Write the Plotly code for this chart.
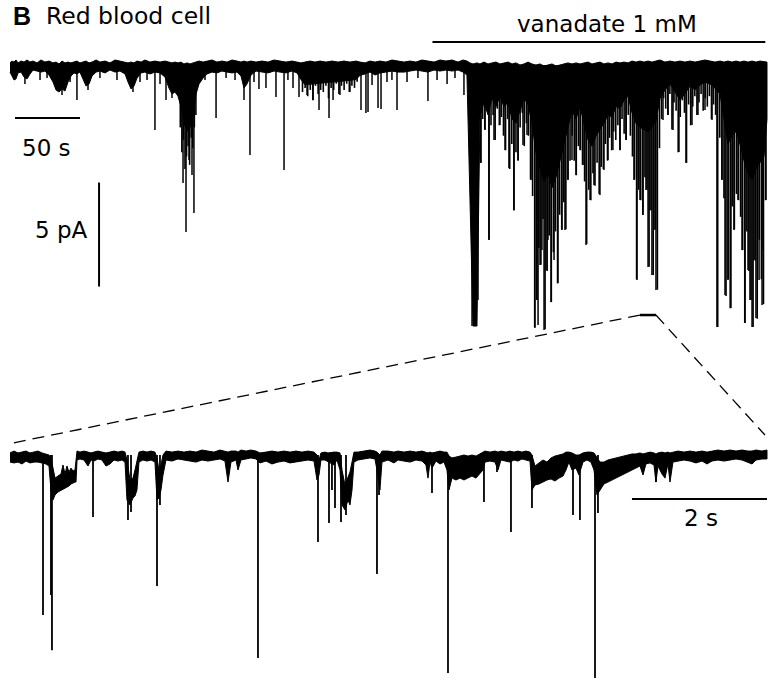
import plotly.graph_objects as go

# ---------------- DATA ----------------
# Overview record (top): time in s, current in pA (0 = baseline, inward = negative)
top_env_t = [0, 1.5, 3.1, 4.6, 6.2, 8.5, 10.8, 13.1, 15.4, 17.7,
             20.8, 23.8, 26.9, 30.0, 33.1, 35.4, 37.7, 40.0, 42.3, 44.6,
             46.9, 49.2, 51.5, 53.8, 56.2, 58.5, 60.8, 63.1, 66.2, 69.2,
             73.1, 76.9, 80.8, 84.6, 88.5, 90.8, 93.1, 95.4, 97.7, 100.8,
             103.8, 107.7, 111.5, 115.4, 119.2, 122.3, 124.6, 126.9, 129.2, 131.5,
             133.8, 136.2, 138.5, 140.8, 143.1, 145.4, 148.5, 151.5, 155.4, 159.2,
             163.1, 166.9, 170.8, 174.6, 177.7, 180.0, 182.3, 185.4, 189.2, 193.8,
             198.5, 203.1, 207.7, 212.3, 216.9, 220.8, 223.8, 226.9, 230.8, 234.6,
             238.5, 243.1, 247.7, 252.3, 256.9, 261.5, 266.2, 269.2, 273.1, 276.9,
             280.8, 284.6, 289.2, 293.8, 298.5, 303.1, 307.7, 312.3, 316.9, 321.5,
             326.2, 330.8, 335.4, 340.0, 344.6, 348.5, 351.5, 353.8, 356.2, 359.2,
             361.5, 364.6, 367.7, 370.8, 373.8, 376.9, 380.0, 383.1, 386.2, 389.2,
             392.3, 395.4, 398.5, 401.5, 404.6, 407.7, 410.8, 413.8, 416.9, 420.0,
             423.1, 426.2, 429.2, 432.3, 435.4, 438.5, 441.5, 444.6, 447.7, 450.8,
             453.8, 456.9, 460.0, 463.1, 466.2, 469.2, 472.3, 475.4, 478.5, 481.5,
             484.6, 487.7, 490.8, 493.8, 496.9, 500.0, 503.8, 507.7, 511.5, 515.4,
             519.2, 523.1, 526.9, 530.8, 534.6, 538.5, 542.3, 546.2, 549.2, 552.3,
             555.4, 558.5, 561.5, 564.6, 567.7, 570.8, 573.8, 576.9, 580.0, 582.3]
top_env_hi = [0.10, 0.19, 0.14, 0.24, 0.10, 0.19, 0.14, 0.24, 0.14, 0.19,
              0.10, 0.24, 0.14, 0.19, 0.10, 0.14, 0.05, 0.19, 0.10, 0.14,
              0.10, 0.14, 0.19, 0.10, 0.14, 0.19, 0.10, 0.14, 0.24, 0.14,
              0.19, 0.10, 0.24, 0.19, 0.14, 0.10, 0.14, 0.10, 0.19, 0.14,
              0.24, 0.14, 0.19, 0.14, 0.19, 0.14, 0.10, 0.14, 0.10, 0.14,
              0.05, 0.10, 0.05, 0.10, 0.14, 0.19, 0.14, 0.19, 0.24, 0.14,
              0.19, 0.14, 0.24, 0.19, 0.14, 0.19, 0.14, 0.19, 0.14, 0.19,
              0.14, 0.24, 0.19, 0.14, 0.19, 0.14, 0.10, 0.14, 0.19, 0.14,
              0.19, 0.14, 0.19, 0.14, 0.19, 0.14, 0.19, 0.14, 0.10, 0.19,
              0.14, 0.19, 0.14, 0.24, 0.19, 0.14, 0.19, 0.14, 0.24, 0.19,
              0.14, 0.24, 0.19, 0.24, 0.14, 0.24, 0.19, 0.10, 0.05, 0.10,
              0.05, 0.14, 0.05, 0.10, 0.14, 0.05, 0.10, 0.14, 0.05, 0.10,
              0.0, 0.05, 0.14, 0.05, 0.0, 0.05, -0.05, 0.0, 0.05, -0.05,
              0.0, 0.05, 0.10, 0.05, 0.10, 0.05, 0.10, 0.14, 0.05, 0.10,
              0.14, 0.05, 0.10, 0.05, 0.14, 0.10, 0.14, 0.10, 0.19, 0.14,
              0.19, 0.14, 0.19, 0.14, 0.19, 0.24, 0.14, 0.19, 0.14, 0.19,
              0.14, 0.19, 0.14, 0.19, 0.24, 0.19, 0.14, 0.19, 0.14, 0.19,
              0.14, 0.19, 0.14, 0.19, 0.14, 0.19, 0.14, 0.19, 0.14, 0.14]
top_env_lo = [-0.34, -0.53, -0.72, -0.67, -0.38, -0.34, -0.58, -0.67, -0.43, -0.24,
              -0.29, -0.34, -0.29, -0.48, -0.82, -1.20, -1.30, -1.15, -1.25, -0.82,
              -0.53, -0.38, -0.43, -0.34, -0.72, -1.01, -0.91, -0.53, -0.34, -0.29,
              -0.38, -0.24, -0.34, -0.29, -0.43, -0.82, -1.15, -1.01, -0.63, -0.38,
              -0.34, -0.43, -0.34, -0.38, -0.58, -1.11, -1.39, -1.30, -1.49, -2.00,
              -2.80, -3.20, -3.00, -2.50, -1.40, -0.91, -0.63, -0.43, -0.34, -0.38,
              -0.29, -0.34, -0.38, -0.34, -0.53, -1.11, -0.91, -0.48, -0.29, -0.34,
              -0.38, -0.29, -0.34, -0.38, -0.29, -0.38, -0.70, -0.95, -0.92, -0.90,
              -0.88, -0.85, -0.82, -0.80, -0.77, -0.74, -0.70, -0.50, -0.43, -0.34,
              -0.48, -0.38, -0.34, -0.29, -0.34, -0.34, -0.29, -0.24, -0.29, -0.34,
              -0.24, -0.29, -0.24, -0.29, -0.24, -0.34, -0.48, -6.49, -12.55, -12.55,
              -2.50, -1.80, -2.40, -1.60, -2.00, -1.50, -2.00, -1.80, -2.60, -2.80,
              -2.20, -1.60, -1.90, -2.80, -4.20, -5.00, -5.60, -5.20, -5.90, -5.40,
              -4.60, -3.80, -3.00, -2.20, -2.60, -2.00, -2.80, -3.60, -3.90, -3.40,
              -3.10, -2.80, -2.40, -2.50, -2.00, -2.10, -1.70, -1.50, -2.30, -2.80,
              -3.00, -3.10, -3.20, -3.00, -2.70, -1.60, -1.20, -0.91, -1.30, -1.68,
              -1.39, -1.01, -1.20, -0.96, -0.82, -0.91, -1.11, -1.40, -2.60, -3.80,
              -3.40, -3.20, -3.80, -4.60, -5.20, -5.50, -5.00, -4.70, -4.40, -2.60]
# isolated openings (current steps) in the overview
top_spike_t = [11.5, 23.1, 28.5, 40.0, 46.2, 51.5, 60.0, 69.2, 82.3, 94.6,
               100.0, 105.4, 111.5, 115.4, 120.0, 124.6, 133.1, 135.4, 137.7, 140.0,
               141.5, 150.0, 158.5, 166.2, 173.1, 180.0, 184.6, 187.7, 191.5, 196.9,
               204.6, 210.8, 213.8, 217.7, 222.3, 228.5, 233.1, 237.7, 245.4, 248.5,
               253.8, 261.5, 270.0, 273.8, 275.4, 278.5, 283.1, 285.4, 290.0, 293.8,
               297.7, 305.4, 313.8, 321.5, 328.5, 336.2, 342.3, 349.2,
               355.4, 356.9, 358.5, 360.0, 362.3, 365.4, 368.5, 372.3, 376.9, 380.8,
               383.8, 387.7, 390.8, 394.6, 397.7, 400.8, 403.8, 405.4, 406.2, 407.7,
               409.2, 410.8, 412.3, 413.8, 416.2, 418.5, 421.5, 424.6, 426.9, 429.2,
               432.3, 435.4, 438.5, 440.8, 443.1, 446.2, 449.2, 453.8, 456.9, 460.0,
               463.8, 469.2, 473.8, 480.0, 482.3, 484.6, 486.9, 489.2, 490.8, 492.3,
               493.8, 495.4, 496.9, 502.3, 506.2, 510.0, 514.6, 520.0, 524.6, 529.2,
               534.6, 540.0, 543.8, 547.7, 550.0, 552.3, 554.6, 556.9, 560.0, 563.1,
               565.4, 567.7, 569.2, 570.8, 572.3, 573.8, 576.2, 578.5, 579.2, 581.5]
top_spike_i = [-0.91, -0.72, -0.63, -1.44, -0.82, -1.68, -1.20, -0.63, -0.72, -1.30,
               -0.82, -0.72, -3.13, -0.91, -1.68, -1.59, -5.67, -8.03, -4.57, -5.29,
               -7.12, -0.72, -2.55, -0.63, -0.72, -1.68, -4.33, -0.82, -1.15, -1.11,
               -1.54, -5.05, -0.72, -1.11, -1.54, -1.44, -1.68, -2.16, -2.55, -1.68,
               -1.44, -1.30, -2.16, -2.31, -2.26, -0.96, -2.07, -2.12, -0.82, -0.72,
               -2.16, -0.82, -0.63, -1.73, -0.72, -0.91, -0.63, -1.44,
               -12.55, -12.55, -12.55, -11.30, -4.71, -3.13, -8.41, -3.61, -2.88, -4.09,
               -4.95, -6.97, -4.57, -3.85, -3.37, -5.53, -12.64, -11.30, -12.50, -9.62,
               -8.89, -12.74, -9.86, -8.41, -11.39, -9.38, -10.48, -7.93, -7.93, -5.53,
               -4.57, -5.29, -4.09, -4.81, -8.65, -6.49, -5.77, -6.25, -5.05, -4.57,
               -4.09, -4.09, -3.61, -5.53, -10.34, -6.49, -7.21, -6.01, -9.71, -6.97,
               -10.10, -7.93, -10.82, -2.64, -2.40, -3.13, -4.18, -4.71, -2.88, -2.40,
               -2.16, -2.64, -12.60, -5.53, -11.06, -10.34, -11.68, -7.93, -6.49, -8.89,
               -12.40, -9.86, -11.30, -12.60, -9.38, -12.16, -10.34, -11.54, -8.89, -6.49]
# densely packed openings (bursts) in the overview
top_burst_t = [131.0, 132.2, 133.4, 134.6, 135.8, 137.0, 138.2, 139.4, 140.6, 141.8, 143.0,
               225.0, 227.0, 229.0, 231.0, 233.0, 235.0, 237.0, 239.0, 241.0, 243.0,
               245.0, 247.0, 249.0, 251.0, 253.0, 255.0, 257.0, 259.0, 261.0, 263.0, 265.0, 267.0,
               362.0, 363.6, 365.2, 366.8, 368.4, 370.0, 371.6, 373.2, 374.8, 376.4,
               378.0, 379.6, 381.2, 382.8, 384.4, 386.0, 387.6, 389.2, 390.8, 392.4,
               394.0, 395.6, 397.2, 398.8,
               400.4, 402.0, 403.6, 405.2, 406.8, 408.4, 410.0, 411.6, 413.2, 414.8,
               416.4, 418.0, 419.6, 421.2, 422.8, 424.4, 426.0, 427.6, 429.2, 430.8,
               432.4, 434.0, 435.6, 437.2, 438.8, 440.4, 442.0, 443.6, 445.2, 446.8,
               448.4, 450.0, 451.6, 453.2, 454.8, 456.4, 458.0, 459.6, 461.2, 462.8,
               464.4, 466.0, 467.6, 469.2, 470.8, 472.4, 474.0, 475.6,
               477.2, 478.8, 480.4, 482.0, 483.6, 485.2, 486.8, 488.4, 490.0, 491.6,
               493.2, 494.8, 496.4, 498.0, 499.6,
               501.2, 502.8, 504.4, 506.0, 507.6, 509.2, 510.8, 512.4, 514.0, 515.6,
               517.2, 518.8, 520.4, 522.0, 523.6, 525.2, 526.8, 528.4, 530.0, 531.6,
               533.2, 534.8, 536.4, 538.0, 539.6, 541.2, 542.8, 544.4,
               546.0, 547.6, 549.2, 550.8, 552.4, 554.0, 555.6, 557.2, 558.8, 560.4,
               562.0, 563.6, 565.2, 566.8, 568.4, 570.0, 571.6, 573.2, 574.8, 576.4,
               578.0, 579.6, 581.2]
top_burst_i = [-3.0, -4.2, -3.6, -5.0, -4.4, -3.9, -4.8, -3.5, -4.0, -3.0, -2.4,
               -1.3, -1.1, -1.5, -1.2, -1.7, -1.0, -1.4, -1.2, -1.3, -1.0,
               -1.6, -1.1, -1.2, -0.9, -1.4, -1.0, -1.2, -0.9, -1.3, -1.0, -1.1, -0.8,
               -4.7, -2.6, -3.1, -2.2, -8.4, -2.9, -2.4, -3.6, -2.1, -2.9,
               -2.5, -3.4, -4.1, -2.6, -5.0, -3.8, -7.0, -4.2, -4.6, -3.0,
               -2.3, -3.9, -2.8, -3.4,
               -5.5, -6.3, -12.6, -11.3, -8.8, -9.6, -7.4, -12.7, -9.9, -8.2,
               -11.4, -9.0, -8.0, -10.5, -7.2, -7.9, -6.6, -7.9, -5.5, -4.6,
               -3.4, -4.6, -5.3, -3.9, -4.1, -4.8, -5.6, -8.6, -6.0, -6.5,
               -5.2, -5.8, -4.7, -6.2, -4.9, -5.0, -3.8, -4.6, -3.5, -4.1,
               -3.2, -3.6, -2.9, -4.1, -2.6, -3.3, -3.6, -2.4,
               -3.4, -4.4, -5.5, -10.3, -6.0, -6.5, -7.2, -5.4, -6.0, -9.7,
               -7.0, -10.1, -7.9, -10.8, -4.0,
               -2.6, -1.6, -2.1, -2.4, -1.4, -3.1, -1.8, -2.2, -4.2, -2.5,
               -1.7, -2.3, -4.7, -1.9, -2.9, -2.0, -1.5, -2.4, -1.8, -1.4,
               -2.2, -1.6, -2.0, -1.5, -2.6, -1.9, -2.4, -12.6,
               -3.5, -5.5, -6.4, -11.1, -10.3, -11.7, -6.8, -7.9, -6.2, -6.5,
               -7.3, -8.9, -12.4, -8.0, -9.9, -11.3, -12.6, -9.4, -12.2, -8.4,
               -10.3, -11.5, -6.5]

# Expanded record (bottom): time in s, current in pA
bot_env_t = [0.0, 0.059, 0.119, 0.178, 0.237, 0.296, 0.356, 0.415, 0.474, 0.533,
             0.578, 0.607, 0.637, 0.667, 0.711, 0.756, 0.785, 0.815, 0.844, 0.874,
             0.904, 0.933, 0.963, 0.978, 0.993, 1.037, 1.096, 1.156, 1.200, 1.244,
             1.304, 1.363, 1.422, 1.481, 1.541, 1.600, 1.659, 1.704, 1.733, 1.778,
             1.822, 1.852, 1.881, 1.911, 1.970, 2.030, 2.089, 2.148, 2.178, 2.207,
             2.237, 2.267, 2.311, 2.400, 2.489, 2.578, 2.667, 2.756, 2.844, 2.933,
             3.022, 3.111, 3.185, 3.230, 3.274, 3.348, 3.378, 3.422, 3.496, 3.570,
             3.644, 3.704, 3.793, 3.881, 3.970, 4.059, 4.148, 4.237, 4.326, 4.415,
             4.504, 4.548, 4.578, 4.607, 4.667, 4.711, 4.800, 4.844, 4.889, 4.919,
             4.963, 5.007, 5.037, 5.067, 5.096, 5.156, 5.244, 5.333, 5.407, 5.437,
             5.481, 5.511, 5.600, 5.689, 5.748, 5.837, 5.926, 6.015, 6.104, 6.163,
             6.193, 6.222, 6.252, 6.311, 6.370, 6.430, 6.474, 6.504, 6.548, 6.607,
             6.667, 6.726, 6.785, 6.844, 6.904, 6.963, 7.007, 7.037, 7.111, 7.185,
             7.230, 7.274, 7.348, 7.407, 7.467, 7.526, 7.585, 7.644, 7.704, 7.733,
             7.778, 7.837, 7.896, 7.956, 8.015, 8.074, 8.133, 8.193, 8.237, 8.281,
             8.326, 8.385, 8.430, 8.489, 8.548, 8.607, 8.652, 8.696, 8.741, 8.800,
             8.859, 8.919, 8.978, 9.037, 9.096, 9.156, 9.215, 9.274, 9.333, 9.378,
             9.422, 9.481, 9.541, 9.570, 9.600, 9.659, 9.704, 9.748, 9.778, 9.822,
             9.896, 9.985, 10.074, 10.163, 10.252, 10.326, 10.400, 10.489, 10.578, 10.667,
             10.756, 10.844, 10.933, 10.993, 11.052, 11.141, 11.215]
bot_env_hi = [0.10, 0.19, 0.10, 0.14, 0.19, 0.10, 0.14, 0.19, 0.10, 0.05,
              0.0, -0.14, -0.72, -1.11, -1.01, -0.91, -0.48, -0.91, -0.53, -0.82,
              -0.63, -0.77, -0.72, -0.24, 0.19, 0.14, 0.19, 0.14, 0.10, 0.14,
              0.19, 0.14, 0.10, 0.14, 0.19, 0.14, 0.19, 0.14, -0.24, -1.20,
              -1.11, -0.72, -0.34, 0.14, 0.19, 0.14, 0.19, 0.14, -0.14, -0.72,
              -0.48, 0.0, 0.19, 0.14, 0.19, 0.14, 0.19, 0.14, 0.24, 0.19,
              0.14, 0.24, 0.19, 0.14, 0.19, 0.19, 0.14, 0.24, 0.19, 0.24,
              0.19, 0.10, 0.14, 0.19, 0.14, 0.19, 0.14, 0.19, 0.14, 0.19,
              0.14, 0.0, -0.24, 0.10, 0.14, 0.10, 0.14, 0.14, 0.10, -0.72,
              -1.44, -1.11, -0.82, -0.34, 0.14, 0.14, 0.19, 0.24, 0.19, 0.14,
              0.0, 0.19, 0.19, 0.14, 0.19, 0.14, 0.19, 0.14, 0.19, 0.14,
              0.10, 0.14, 0.10, 0.14, 0.19, 0.14, 0.14, -0.05, -0.14, -0.10,
              -0.05, 0.0, -0.05, 0.0, -0.05, 0.05, 0.10, 0.19, 0.14, 0.19,
              0.14, 0.19, 0.14, 0.19, 0.14, 0.19, 0.14, 0.19, 0.14, 0.0,
              -0.53, -0.38, -0.24, -0.34, -0.14, -0.05, 0.0, 0.05, 0.14, 0.14,
              0.10, 0.0, 0.0, 0.10, 0.14, 0.14, 0.10, -0.14, -0.34, -0.34,
              -0.24, -0.19, -0.14, -0.10, -0.05, 0.0, 0.05, 0.05, 0.10, 0.05,
              0.10, 0.14, 0.10, 0.05, 0.10, 0.14, 0.10, 0.14, 0.10, 0.14,
              0.19, 0.14, 0.19, 0.14, 0.19, 0.14, 0.19, 0.24, 0.19, 0.24,
              0.19, 0.24, 0.19, 0.19, 0.24, 0.19, 0.24]
bot_env_lo = [-0.34, -0.38, -0.34, -0.43, -0.29, -0.38, -0.34, -0.34, -0.38, -0.43,
              -0.53, -1.68, -2.16, -1.92, -1.78, -1.68, -1.63, -1.59, -1.54, -1.49,
              -1.39, -1.35, -1.30, -1.30, -0.24, -0.19, -0.24, -0.53, -0.24, -0.29,
              -0.19, -0.24, -0.53, -0.43, -0.24, -0.29, -0.24, -0.34, -2.16, -2.40,
              -2.07, -1.97, -1.68, -0.34, -0.24, -0.29, -0.24, -0.34, -2.16, -2.07,
              -1.68, -0.96, -0.24, -0.29, -0.19, -0.24, -0.29, -0.34, -0.24, -0.29,
              -0.24, -0.19, -0.29, -1.30, -0.34, -0.24, -0.72, -0.24, -0.19, -0.14,
              -0.19, -0.38, -0.29, -0.43, -0.34, -0.29, -0.38, -0.34, -0.29, -0.24,
              -0.29, -1.20, -0.96, -0.24, -0.24, -0.34, -0.48, -0.24, -0.72, -2.40,
              -2.64, -2.16, -2.40, -1.68, -0.34, -0.24, -0.19, -0.14, -0.19, -0.72,
              -1.68, -0.34, -0.24, -0.38, -0.24, -0.29, -0.34, -0.24, -0.29, -0.48,
              -1.11, -0.34, -0.63, -0.29, -0.43, -0.34, -0.72, -1.68, -1.11, -1.20,
              -1.11, -1.20, -1.11, -1.01, -1.11, -0.91, -0.72, -0.34, -0.29, -0.34,
              -0.72, -0.24, -0.29, -0.34, -0.24, -0.29, -0.19, -0.24, -0.29, -1.68,
              -1.44, -1.39, -1.30, -1.20, -1.15, -1.25, -1.11, -1.01, -0.72, -0.34,
              -0.72, -0.63, -0.96, -0.34, -0.24, -0.34, -0.72, -1.92, -1.68, -1.39,
              -1.30, -1.20, -1.11, -1.01, -0.91, -0.82, -0.72, -0.63, -0.53, -0.96,
              -0.43, -0.38, -0.48, -1.30, -0.53, -0.91, -1.11, -0.43, -1.30, -0.34,
              -0.29, -0.24, -0.29, -0.38, -0.29, -0.43, -0.29, -0.24, -0.29, -0.24,
              -0.19, -0.24, -0.34, -0.43, -0.24, -0.19, -0.19]
bot_spike_t = [0.489, 0.607, 0.622, 1.230, 1.748, 1.793, 2.178, 2.222, 3.674, 4.563,
               4.726, 4.770, 4.815, 4.904, 4.978, 5.437, 5.467, 6.252, 6.489, 7.022,
               7.215, 7.422, 7.733, 8.341, 8.444, 8.667, 8.711, 9.570]
bot_spike_i = [-7.69, -6.73, -9.38, -2.98, -3.13, -2.74, -6.30, -2.40, -9.76, -4.18,
               -3.27, -1.68, -2.55, -3.22, -2.88, -5.72, -1.92, -1.83, -10.48, -2.26,
               -0.82, -3.70, -2.55, -2.88, -3.13, -10.72, -2.79, -1.30]

vanadate_period = [325.0, 581.0]       # s, bath application of 1 mM vanadate
expanded_window = [484.6, 496.9]       # s, part of the overview shown below
scale_time_top = 50                    # s
scale_time_bottom = 2                  # s
scale_current = 5                      # pA
labels = {"title": "Red blood cell", "panel": "B", "drug": "vanadate 1 mM",
          "t_top": "50 s", "t_bot": "2 s", "i": "5 pA"}

assert len(top_env_t) == len(top_env_hi) == len(top_env_lo)
assert len(bot_env_t) == len(bot_env_hi) == len(bot_env_lo)
assert len(top_spike_t) == len(top_spike_i)
assert len(top_burst_t) == len(top_burst_i)
assert len(bot_spike_t) == len(bot_spike_i)

# ---------------- LAYOUT ----------------
W, H = 768, 683
XR_TOP = [-7.69, 583.08]
YR_TOP = [-13.46, 3.125]
YD_TOP = [0.4949, 1.0]
XR_BOT = [-0.148, 11.23]
YR_BOT = [-10.96, 5.29]
YD_BOT = [0.0, 0.4949]
FONT = "DejaVu Sans"
INK = "#000000"


def to_paper(t, i, xr, yr, yd):
    px = (t - xr[0]) / (xr[1] - xr[0])
    py = yd[0] + (i - yr[0]) / (yr[1] - yr[0]) * (yd[1] - yd[0])
    return px, py


def spikes_xy(ts, vals):
    xs, ys = [], []
    for t, v in zip(ts, vals):
        xs += [t, t, None]
        ys += [0, v, None]
    return xs, ys


fig = go.Figure()

# overview trace
fig.add_trace(go.Scatter(x=top_env_t + top_env_t[::-1], y=top_env_hi + top_env_lo[::-1],
                         fill="toself", fillcolor=INK, mode="lines",
                         line=dict(color=INK, width=1), xaxis="x", yaxis="y", hoverinfo="skip"))
sx, sy = spikes_xy(top_burst_t, top_burst_i)
fig.add_trace(go.Scatter(x=sx, y=sy, mode="lines", line=dict(color=INK, width=1.6),
                         xaxis="x", yaxis="y", hoverinfo="skip"))
sx, sy = spikes_xy(top_spike_t, top_spike_i)
fig.add_trace(go.Scatter(x=sx, y=sy, mode="lines", line=dict(color=INK, width=1.5),
                         xaxis="x", yaxis="y", hoverinfo="skip"))

# expanded trace
fig.add_trace(go.Scatter(x=bot_env_t + bot_env_t[::-1], y=bot_env_hi + bot_env_lo[::-1],
                         fill="toself", fillcolor=INK, mode="lines",
                         line=dict(color=INK, width=1), xaxis="x2", yaxis="y2", hoverinfo="skip"))
bx, by = spikes_xy(bot_spike_t, bot_spike_i)
fig.add_trace(go.Scatter(x=bx, y=by, mode="lines", line=dict(color=INK, width=1.8),
                         xaxis="x2", yaxis="y2", hoverinfo="skip"))

# scale bars & drug bar (top axes)
t_bar0, i_bar = 3.85, -2.55
fig.add_trace(go.Scatter(x=[t_bar0, t_bar0 + scale_time_top], y=[i_bar, i_bar], mode="lines",
                         line=dict(color=INK, width=2), xaxis="x", yaxis="y"))
t_vbar, i_vbar0 = 68.5, -5.65
fig.add_trace(go.Scatter(x=[t_vbar, t_vbar], y=[i_vbar0, i_vbar0 - scale_current], mode="lines",
                         line=dict(color=INK, width=2), xaxis="x", yaxis="y"))
i_drug = 1.1
fig.add_trace(go.Scatter(x=vanadate_period, y=[i_drug, i_drug], mode="lines",
                         line=dict(color=INK, width=2), xaxis="x", yaxis="y"))
i_mark = -12.02
fig.add_trace(go.Scatter(x=expanded_window, y=[i_mark, i_mark], mode="lines",
                         line=dict(color=INK, width=2.5), xaxis="x", yaxis="y"))

# 2 s bar (bottom axes)
t_b2_end, i_b2 = 11.215, -2.12
fig.add_trace(go.Scatter(x=[t_b2_end - scale_time_bottom, t_b2_end], y=[i_b2, i_b2], mode="lines",
                         line=dict(color=INK, width=2), xaxis="x2", yaxis="y2"))

# dashed connectors from the marked window to the expanded record
pL = to_paper(expanded_window[0], i_mark, XR_TOP, YR_TOP, YD_TOP)
pR = to_paper(expanded_window[1], i_mark, XR_TOP, YR_TOP, YD_TOP)
qL = to_paper(bot_env_t[0], 0.55, XR_BOT, YR_BOT, YD_BOT)
qR = to_paper(11.185, 0.96, XR_BOT, YR_BOT, YD_BOT)
for a, b in [(pL, qL), (pR, qR)]:
    fig.add_shape(type="line", xref="paper", yref="paper", x0=a[0], y0=a[1], x1=b[0], y1=b[1],
                  line=dict(color=INK, width=1.3, dash="12px,7px"))

ann = []
ann.append(dict(text="<b>" + labels["panel"] + "</b>", xref="paper", yref="paper",
                x=11 / W, y=1 - 16.5 / H, xanchor="left", yanchor="middle", showarrow=False,
                font=dict(family="Liberation Sans, Arial, sans-serif", size=25, color=INK)))
ann.append(dict(text=labels["title"], xref="paper", yref="paper",
                x=44 / W, y=1 - 16.5 / H, xanchor="left", yanchor="middle", showarrow=False,
                font=dict(family=FONT, size=23.5, color=INK)))
ann.append(dict(text=labels["drug"], xref="x", yref="y", x=459.6, y=1.95,
                xanchor="center", yanchor="middle", showarrow=False,
                font=dict(family=FONT, size=23, color=INK)))
ann.append(dict(text=labels["t_top"], xref="x", yref="y", x=27.7, y=-4.0,
                xanchor="center", yanchor="middle", showarrow=False,
                font=dict(family=FONT, size=23, color=INK)))
ann.append(dict(text=labels["i"], xref="x", yref="y", x=61.5, y=-7.95,
                xanchor="right", yanchor="middle", showarrow=False,
                font=dict(family=FONT, size=23, color=INK)))
ann.append(dict(text=labels["t_bot"], xref="x2", yref="y2", x=10.23, y=-3.05,
                xanchor="center", yanchor="middle", showarrow=False,
                font=dict(family=FONT, size=23, color=INK)))

ax_off = dict(visible=False, showgrid=False, zeroline=False, fixedrange=True)
fig.update_layout(
    width=W, height=H, margin=dict(l=0, r=0, t=0, b=0),
    paper_bgcolor="white", plot_bgcolor="white", showlegend=False,
    xaxis=dict(domain=[0, 1], range=XR_TOP, anchor="y", **ax_off),
    yaxis=dict(domain=YD_TOP, range=YR_TOP, anchor="x", **ax_off),
    xaxis2=dict(domain=[0, 1], range=XR_BOT, anchor="y2", **ax_off),
    yaxis2=dict(domain=YD_BOT, range=YR_BOT, anchor="x2", **ax_off),
    annotations=ann,
)

fig.write_html("out.html")
